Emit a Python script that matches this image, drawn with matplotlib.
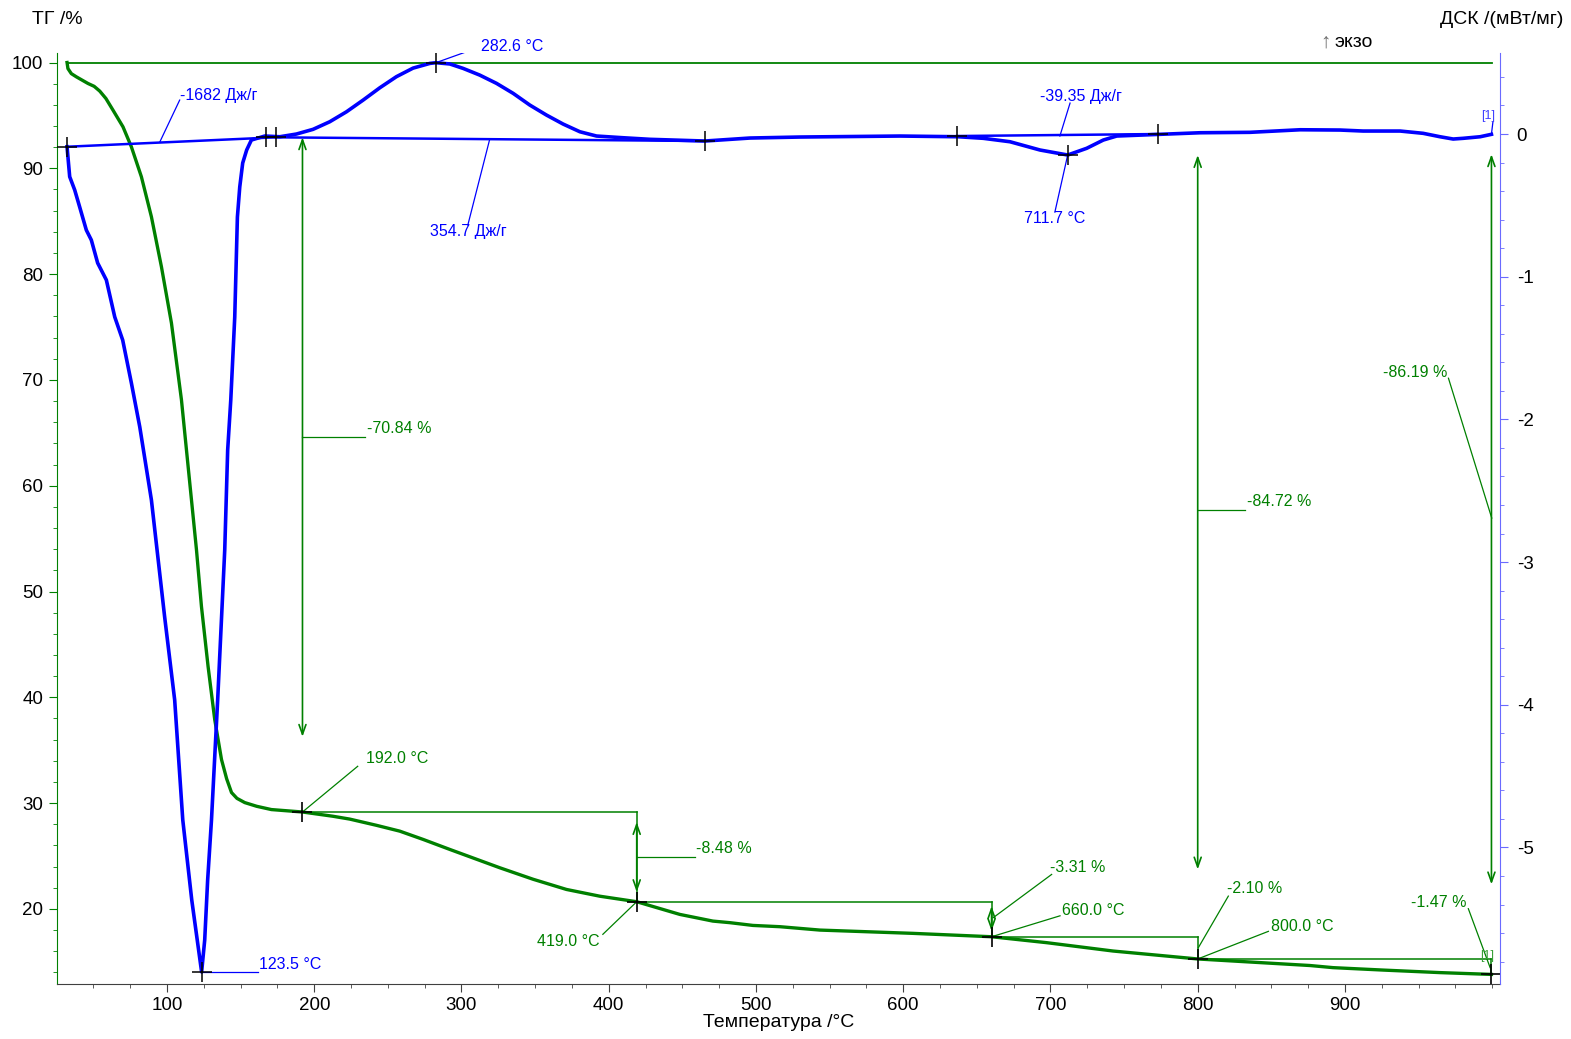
import matplotlib
matplotlib.use("Agg")
import matplotlib.pyplot as plt
from matplotlib.ticker import MultipleLocator

plt.rcParams["font.family"] = ["Liberation Sans", "DejaVu Sans"]
plt.rcParams["axes.unicode_minus"] = False

GREEN = "#008000"
BLUE = "#0000ff"

# TG curve, temperature /°C and mass /%
tg_temp = [32.1, 32.7, 35.0, 38.5, 46.3, 50.5, 54.3, 58.5, 63.3, 70.1, 75.8, 82.6, 89.4,
           96.2, 103.0, 109.8, 113.2, 116.6, 120.0, 123.4, 127.9, 132.4, 137.0, 140.5,
           143.8, 147.5, 152.8, 160.9, 170.9, 192.0, 212.6, 224.1, 242.3, 258.1, 273.9,
           292.1, 326.0, 348.7, 371.3, 394.0, 419.0, 448.3, 470.7, 482.3, 497.9, 516.2,
           543.4, 606.6, 660.0, 697.4, 742.5, 800.0, 876.3, 891.9, 925.9, 964.6, 999.5]
tg_mass = [100.0, 99.43, 98.95, 98.64, 98.02, 97.75, 97.30, 96.60, 95.50, 93.92, 92.03,
           89.20, 85.42, 80.70, 75.38, 68.12, 63.39, 58.67, 53.95, 48.57, 42.90, 37.90,
           34.12, 32.30, 31.00, 30.45, 30.05, 29.70, 29.39, 29.16, 28.76, 28.49, 27.90,
           27.35, 26.57, 25.62, 23.89, 22.80, 21.84, 21.20, 20.68, 19.48, 18.85, 18.70,
           18.44, 18.32, 18.00, 17.69, 17.37, 16.81, 16.02, 15.27, 14.65, 14.45, 14.22,
           13.98, 13.81]

# DSC curve, temperature /°C and heat flow /(mW/mg)
dsc_temp = [32.1, 33.9, 37.3, 40.7, 45.2, 48.6, 52.9, 58.8, 64.5, 69.9, 75.8, 81.5,
            89.4, 98.4, 105.2, 110.7, 116.8, 123.5, 125.6, 127.6, 130.2, 134.4, 139.2,
            141.2, 143.3, 146.0, 147.8, 149.4, 151.4, 154.1, 157.3, 166.4, 176.6, 187.9,
            199.2, 210.5, 221.9, 233.2, 244.5, 255.8, 267.1, 278.5, 282.6, 292.1, 301.1,
            312.4, 323.8, 335.1, 346.4, 357.7, 369.0, 380.4, 391.7, 409.8, 427.9, 465.3,
            495.9, 529.8, 597.8, 637.4, 654.4, 672.5, 692.9, 711.7, 724.6, 735.9, 745.0,
            774.4, 801.6, 835.5, 869.6, 896.7, 912.3, 937.5, 953.1, 964.6, 973.5, 980.3,
            991.8, 999.5]
dsc_val = [-0.089, -0.299, -0.392, -0.512, -0.673, -0.743, -0.904, -1.023, -1.282,
           -1.444, -1.745, -2.053, -2.565, -3.385, -3.966, -4.807, -5.368, -5.872,
           -5.648, -5.228, -4.807, -3.966, -2.915, -2.214, -1.864, -1.282, -0.582,
           -0.371, -0.203, -0.112, -0.042, -0.014, -0.019, 0.000, 0.033, 0.086, 0.156,
           0.238, 0.324, 0.402, 0.462, 0.495, 0.500, 0.491, 0.460, 0.413, 0.355, 0.285,
           0.203, 0.133, 0.070, 0.016, -0.014, -0.026, -0.037, -0.049, -0.028, -0.021,
           -0.014, -0.019, -0.030, -0.054, -0.112, -0.147, -0.100, -0.042, -0.014,
           -0.002, 0.009, 0.012, 0.030, 0.028, 0.021, 0.021, 0.005, -0.019, -0.035,
           -0.030, -0.019, -0.002]

# TG evaluation points
step_t = [192.0, 419.0, 660.0, 800.0, 999.5]
step_m = [29.16, 20.68, 17.37, 15.27, 13.81]
step_labels = ["192.0 °C", "419.0 °C", "660.0 °C", "800.0 °C"]
loss_labels = ["-8.48 %", "-3.31 %", "-2.10 %", "-1.47 %"]

fig = plt.figure(figsize=(15.71, 10.39), dpi=100)
ax = fig.add_axes([0.0363, 0.0529, 0.9185, 0.8961])
ax2 = ax.twinx()

ax.set_xlim(25.3, 1005.3)
ax.set_ylim(12.9, 100.9)
ax2.set_ylim(-5.957, 0.568)

# TG
ax.plot(tg_temp, tg_mass, color=GREEN, lw=2.4, zorder=3)
ax.plot([32.2, 999.7], [100, 100], color=GREEN, lw=1.3)

for i in range(4):
    t0, t1 = step_t[i], step_t[i + 1]
    m0, m1 = step_m[i], step_m[i + 1]
    ax.plot([t0, t1], [m0, m0], color=GREEN, lw=1.1)
    ax.plot([t1, t1], [m0, m1], color=GREEN, lw=1.1)
ax.plot(step_t, step_m, "k+", ms=15, mew=1.2, zorder=5)

arrow = dict(arrowstyle="<->,head_length=0.7,head_width=0.25", color=GREEN, lw=1.2,
             shrinkA=0, shrinkB=0)
ax.annotate("", xy=(419.0, 28.21), xytext=(419.0, 21.59), arrowprops=arrow)
ax.annotate("", xy=(660.0, 20.26), xytext=(660.0, 17.91), arrowprops=arrow)
ax.annotate("", xy=(192.0, 92.93), xytext=(192.0, 36.27), arrowprops=arrow)
ax.annotate("", xy=(800.0, 91.25), xytext=(800.0, 23.73), arrowprops=arrow)
ax.annotate("", xy=(999.5, 91.33), xytext=(999.5, 22.32), arrowprops=arrow)

tfs = 11.5
# loss labels
ax.plot([192.0, 234.3], [64.62, 64.62], color=GREEN, lw=0.9)
ax.text(235.5, 64.7, "-70.84 %", color=GREEN, fontsize=tfs, va="bottom", ha="left")
ax.plot([800.0, 832.1], [57.72, 57.72], color=GREEN, lw=0.9)
ax.text(833.5, 57.8, "-84.72 %", color=GREEN, fontsize=tfs, va="bottom", ha="left")
ax.plot([999.7, 970.3], [56.94, 70.16], color=GREEN, lw=0.9)
ax.text(969.5, 70.0, "-86.19 %", color=GREEN, fontsize=tfs, va="bottom", ha="right")

ax.plot([419.0, 458.5], [24.89, 24.89], color=GREEN, lw=0.9)
ax.text(459.5, 25.0, loss_labels[0], color=GREEN, fontsize=tfs, va="bottom", ha="left")
ax.plot([661.1, 700.8], [19.17, 23.26], color=GREEN, lw=0.9)
ax.text(700.0, 23.2, loss_labels[1], color=GREEN, fontsize=tfs, va="bottom", ha="left")
ax.plot([800.4, 820.8], [16.33, 21.21], color=GREEN, lw=0.9)
ax.text(820.0, 21.2, loss_labels[2], color=GREEN, fontsize=tfs, va="bottom", ha="left")
ax.plot([998.6, 983.8], [14.45, 20.02], color=GREEN, lw=0.9)
ax.text(982.5, 19.9, loss_labels[3], color=GREEN, fontsize=tfs, va="bottom", ha="right")
ax.text(996.5, 15.0, "[1]", color="#3aa03a", fontsize=9, va="bottom", ha="center")

# temperature labels
ax.plot([192.0, 229.5], [29.16, 33.48], color=GREEN, lw=0.9)
ax.text(235.0, 33.5, step_labels[0], color=GREEN, fontsize=tfs, va="bottom", ha="left")
ax.plot([419.0, 396.0], [20.68, 17.6], color=GREEN, lw=0.9)
ax.text(394.0, 17.65, step_labels[1], color=GREEN, fontsize=tfs, va="top", ha="right")
ax.plot([660.0, 706.5], [17.37, 19.35], color=GREEN, lw=0.9)
ax.text(707.5, 19.1, step_labels[2], color=GREEN, fontsize=tfs, va="bottom", ha="left")
ax.plot([800.0, 848.0], [15.27, 17.88], color=GREEN, lw=0.9)
ax.text(849.5, 17.6, step_labels[3], color=GREEN, fontsize=tfs, va="bottom", ha="left")

# DSC
ax2.plot(dsc_temp, dsc_val, color=BLUE, lw=2.6, zorder=3)
ax2.plot([32.1, 173.9], [-0.089, -0.023], color=BLUE, lw=1.8)
ax2.plot([173.9, 465.3], [-0.023, -0.049], color=BLUE, lw=1.8)
ax2.plot([636.5, 773.0], [-0.014, 0.0], color=BLUE, lw=1.8)

mk_t = [32.1, 167.5, 173.9, 282.6, 123.5, 465.3, 636.5, 773.0, 711.7]
mk_v = [-0.089, -0.023, -0.023, 0.500, -5.872, -0.049, -0.014, 0.0, -0.147]
ax2.plot(mk_t, mk_v, "k+", ms=15, mew=1.1, zorder=5)

ax2.plot([95.1, 108.6], [-0.056, 0.238], color=BLUE, lw=0.9)
ax2.text(109.0, 0.215, "-1682 Дж/г", color=BLUE, fontsize=tfs, va="bottom", ha="left")
ax2.plot([282.6, 312.4], [0.5, 0.61], color=BLUE, lw=0.9)
ax2.text(313.0, 0.61, "282.6 °C", color=BLUE, fontsize=tfs, va="center", ha="left")
ax2.plot([123.5, 161.6], [-5.872, -5.872], color=BLUE, lw=0.9)
ax2.text(162.3, -5.87, "123.5 °C", color=BLUE, fontsize=tfs, va="bottom", ha="left")
ax2.plot([319.2, 304.3], [-0.035, -0.638], color=BLUE, lw=0.9)
ax2.text(304.3, -0.63, "354.7 Дж/г", color=BLUE, fontsize=tfs, va="top", ha="center")
ax2.plot([706.4, 713.3], [-0.014, 0.217], color=BLUE, lw=0.9)
ax2.text(692.9, 0.21, "-39.35 Дж/г", color=BLUE, fontsize=tfs, va="bottom", ha="left")
ax2.plot([711.7, 703.0], [-0.147, -0.547], color=BLUE, lw=0.9)
ax2.text(703.0, -0.54, "711.7 °C", color=BLUE, fontsize=tfs, va="top", ha="center")
ax2.plot([999.5, 1000.5], [0.0, 0.085], color=BLUE, lw=0.9)
ax2.text(997.5, 0.085, "[1]", color="#4040ff", fontsize=9, va="bottom", ha="center")

# axes styling
ax.xaxis.set_major_locator(MultipleLocator(100))
ax.xaxis.set_minor_locator(MultipleLocator(25))
ax.yaxis.set_major_locator(MultipleLocator(10))
ax.yaxis.set_minor_locator(MultipleLocator(2))
ax2.yaxis.set_major_locator(MultipleLocator(1))
ax2.yaxis.set_minor_locator(MultipleLocator(0.2))

for a in (ax, ax2):
    a.spines["top"].set_visible(False)
ax.spines["right"].set_visible(False)
ax2.spines["left"].set_visible(False)
ax2.spines["bottom"].set_visible(False)
ax.spines["left"].set_color(GREEN)
ax.spines["bottom"].set_color("#404040")
ax2.spines["right"].set_color("#6a6aff")

tls = 13.5
ax.tick_params(axis="y", which="both", colors=GREEN, labelcolor="black", labelsize=tls,
               direction="out")
ax.tick_params(axis="y", which="major", length=6, pad=4)
ax.tick_params(axis="y", which="minor", length=3)
ax.tick_params(axis="x", which="both", colors="#404040", labelcolor="black",
               labelsize=tls, direction="out")
ax.tick_params(axis="x", which="major", length=6)
ax.tick_params(axis="x", which="minor", length=3)
ax2.tick_params(axis="y", which="both", colors="#6a6aff", labelcolor="black",
                labelsize=tls, direction="out")
ax2.tick_params(axis="y", which="major", length=6, pad=6)
ax2.tick_params(axis="y", which="minor", length=3)
ax.set_yticks([20, 30, 40, 50, 60, 70, 80, 90, 100])
ax2.set_yticks([-5, -4, -3, -2, -1, 0])
ax.set_xticks(range(100, 1000, 100))

ax.set_xlabel("Температура /°C", fontsize=14, labelpad=0)
fig.text(0.0204, 0.981, "ТГ /%", fontsize=14, ha="left", va="center")
fig.text(0.995, 0.981, "ДСК /(мВт/мг)", fontsize=14, ha="right", va="center")
fig.text(0.8435, 0.9595, "↑", fontsize=15, ha="center", va="center", color="#707070")
fig.text(0.8495, 0.9595, "экзо", fontsize=14, ha="left", va="center")

fig.savefig("out.png", dpi=100)
